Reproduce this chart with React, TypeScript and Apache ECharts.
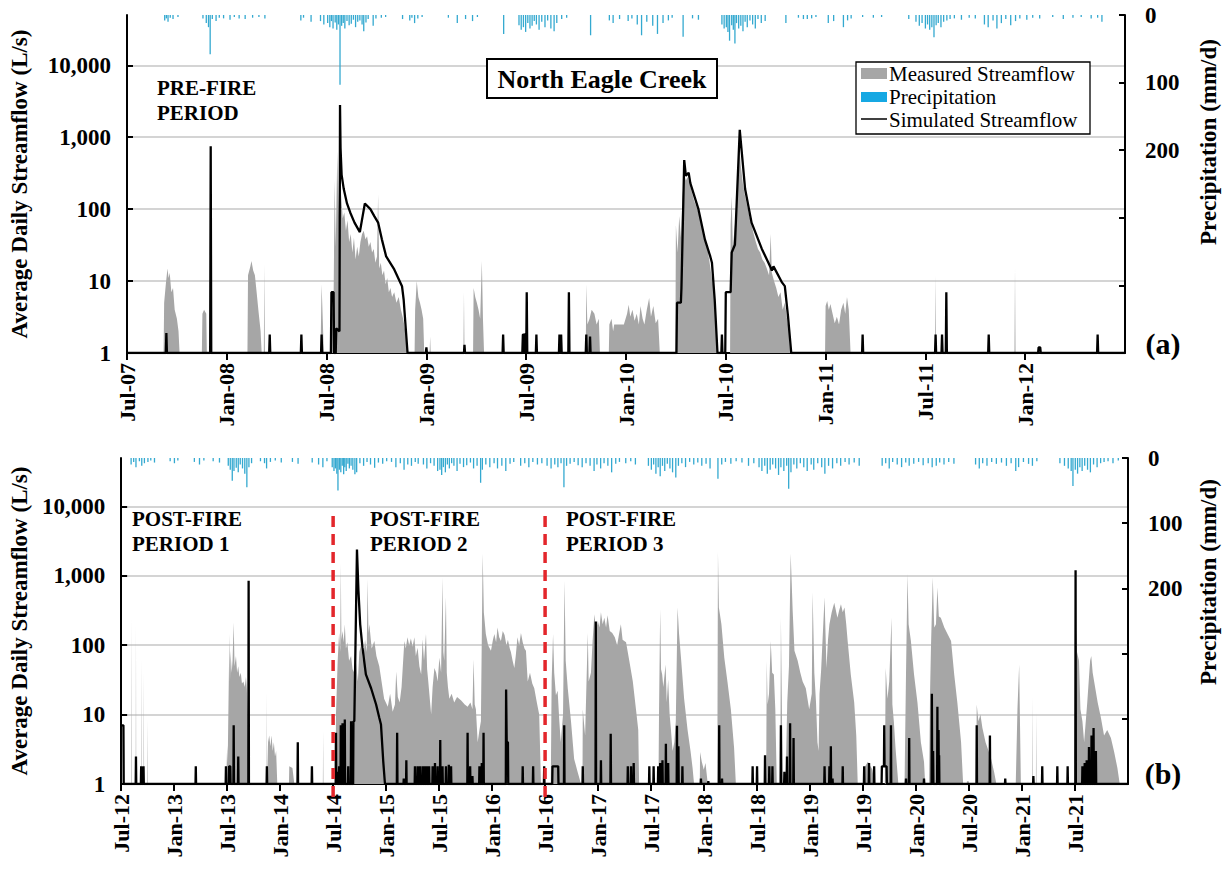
import React, { useEffect, useRef } from 'react';
import * as echarts from 'echarts';

type Pt = [string, number];

// ---------- Pre-fire period (Jul 2007 – Jul 2012) ----------
const flowA: Pt[] = [
  ['2007-07-01', 1],
  ['2007-09-07', 1], ['2007-09-08', 5], ['2007-09-11', 9], ['2007-09-14', 15], ['2007-09-16', 11], ['2007-09-18', 13], ['2007-09-21', 7], ['2007-09-24', 8], ['2007-09-27', 4], ['2007-10-01', 3], ['2007-10-04', 2], ['2007-10-06', 1],
  ['2007-11-16', 1], ['2007-11-17', 3.5], ['2007-11-20', 4], ['2007-11-24', 3.5], ['2007-11-25', 1],
  ['2008-02-08', 1], ['2008-02-09', 12], ['2008-02-13', 16], ['2008-02-15', 19], ['2008-02-18', 14], ['2008-02-21', 12], ['2008-02-24', 7], ['2008-02-27', 4], ['2008-03-02', 2], ['2008-03-04', 1],
  ['2008-03-08', 1], ['2008-03-09', 17], ['2008-03-10', 1],
  ['2008-06-20', 1], ['2008-06-22', 9], ['2008-06-24', 3], ['2008-06-26', 1],
  ['2008-07-09', 1], ['2008-07-10', 3], ['2008-07-14', 5], ['2008-07-16', 250], ['2008-07-18', 30], ['2008-07-21', 640], ['2008-07-23', 80], ['2008-07-26', 2000], ['2008-07-28', 160], ['2008-07-31', 75],
  ['2008-08-03', 90], ['2008-08-06', 50], ['2008-08-09', 70], ['2008-08-12', 35], ['2008-08-15', 45], ['2008-08-18', 25], ['2008-08-21', 40], ['2008-08-24', 20], ['2008-08-27', 30], ['2008-08-30', 22],
  ['2008-09-02', 35], ['2008-09-05', 45], ['2008-09-08', 50], ['2008-09-11', 38], ['2008-09-14', 42], ['2008-09-17', 30], ['2008-09-20', 35], ['2008-09-23', 25], ['2008-09-26', 28], ['2008-09-29', 18],
  ['2008-10-02', 22], ['2008-10-04', 160], ['2008-10-06', 15], ['2008-10-09', 18], ['2008-10-12', 12], ['2008-10-15', 14], ['2008-10-18', 9], ['2008-10-21', 11], ['2008-10-24', 7], ['2008-10-27', 8], ['2008-10-30', 6],
  ['2008-11-03', 7], ['2008-11-07', 5], ['2008-11-11', 6], ['2008-11-15', 4], ['2008-11-19', 3], ['2008-11-23', 2], ['2008-11-27', 1],
  ['2008-12-10', 1], ['2008-12-11', 4], ['2008-12-14', 10], ['2008-12-17', 6], ['2008-12-20', 5], ['2008-12-23', 4], ['2008-12-26', 3], ['2008-12-28', 1],
  ['2009-01-07', 1], ['2009-01-08', 1.7], ['2009-01-09', 1],
  ['2009-03-08', 1], ['2009-03-09', 7], ['2009-03-10', 1],
  ['2009-03-26', 1], ['2009-03-27', 8], ['2009-03-30', 6], ['2009-04-02', 5], ['2009-04-05', 4], ['2009-04-08', 3], ['2009-04-11', 19], ['2009-04-13', 3], ['2009-04-15', 1],
  ['2009-10-19', 1], ['2009-10-20', 9], ['2009-10-22', 2.5], ['2009-10-26', 3], ['2009-10-30', 4], ['2009-11-04', 3.5], ['2009-11-08', 2.5], ['2009-11-12', 3], ['2009-11-14', 1],
  ['2009-11-30', 1], ['2009-12-01', 2.5], ['2009-12-05', 3], ['2009-12-08', 2], ['2009-12-10', 2.5], ['2009-12-20', 2.5], ['2009-12-28', 2.5], ['2010-01-03', 3.5], ['2010-01-06', 4.7], ['2010-01-09', 3.2], ['2010-01-13', 4],
  ['2010-01-17', 2.8], ['2010-01-21', 3.5], ['2010-01-25', 2.5], ['2010-01-28', 4.5], ['2010-02-01', 3], ['2010-02-04', 2.5], ['2010-02-08', 4], ['2010-02-12', 5.8], ['2010-02-15', 3.2], ['2010-02-19', 4.5], ['2010-02-23', 2.6], ['2010-02-27', 3], ['2010-03-02', 1],
  ['2010-03-31', 1], ['2010-04-01', 60], ['2010-04-04', 25], ['2010-04-07', 80], ['2010-04-10', 40], ['2010-04-13', 150], ['2010-04-16', 300], ['2010-04-19', 250], ['2010-04-22', 280], ['2010-04-26', 220], ['2010-04-30', 170],
  ['2010-05-04', 130], ['2010-05-08', 110], ['2010-05-12', 90], ['2010-05-16', 70], ['2010-05-20', 55], ['2010-05-24', 40], ['2010-05-28', 30], ['2010-06-01', 20], ['2010-06-05', 12], ['2010-06-09', 8], ['2010-06-13', 4], ['2010-06-16', 1],
  ['2010-07-09', 1], ['2010-07-10', 60], ['2010-07-12', 150], ['2010-07-14', 30], ['2010-07-17', 50], ['2010-07-20', 90], ['2010-07-23', 250], ['2010-07-26', 800], ['2010-07-29', 400], ['2010-08-02', 220], ['2010-08-06', 150],
  ['2010-08-10', 110], ['2010-08-14', 80], ['2010-08-18', 60], ['2010-08-22', 45], ['2010-08-26', 35], ['2010-08-30', 28], ['2010-09-03', 25], ['2010-09-07', 20], ['2010-09-11', 18], ['2010-09-15', 15], ['2010-09-19', 12],
  ['2010-09-22', 45], ['2010-09-24', 13], ['2010-09-28', 10], ['2010-10-02', 8], ['2010-10-06', 6], ['2010-10-10', 7], ['2010-10-14', 4], ['2010-10-18', 5], ['2010-10-22', 3], ['2010-10-26', 2], ['2010-10-28', 1],
  ['2010-12-31', 1], ['2011-01-01', 4.5], ['2011-01-04', 5.3], ['2011-01-07', 4], ['2011-01-10', 4.8], ['2011-01-14', 3.5], ['2011-01-18', 2.6], ['2011-01-22', 3.2], ['2011-01-26', 2.5], ['2011-01-30', 4], ['2011-02-03', 5], ['2011-02-06', 3.5], ['2011-02-09', 6], ['2011-02-12', 4], ['2011-02-15', 1],
  ['2011-07-19', 1], ['2011-07-20', 12], ['2011-07-21', 1],
  ['2011-12-12', 1], ['2011-12-13', 15], ['2011-12-14', 1],
  ['2012-07-01', 1],
];

const simA: Pt[] = [
  ['2007-07-01', 1],
  ['2007-09-11', 1], ['2007-09-12', 1.9], ['2007-09-13', 1],
  ['2007-12-01', 1], ['2007-12-02', 750], ['2007-12-03', 1],
  ['2008-03-18', 1], ['2008-03-19', 1.8], ['2008-03-20', 1],
  ['2008-05-15', 1], ['2008-05-16', 1.8], ['2008-05-17', 1],
  ['2008-06-21', 1], ['2008-06-22', 1.8], ['2008-06-23', 1],
  ['2008-07-09', 1], ['2008-07-10', 7], ['2008-07-14', 7], ['2008-07-15', 1],
  ['2008-07-18', 1], ['2008-07-19', 2.2], ['2008-07-25', 2], ['2008-07-26', 2800], ['2008-07-27', 700], ['2008-07-29', 300], ['2008-08-02', 190], ['2008-08-08', 120], ['2008-08-14', 90], ['2008-08-22', 65], ['2008-09-01', 48],
  ['2008-09-06', 80], ['2008-09-10', 120], ['2008-09-20', 100], ['2008-09-27', 80], ['2008-10-04', 65], ['2008-10-11', 38], ['2008-10-19', 22], ['2008-11-03', 14.5], ['2008-11-17', 8.5], ['2008-11-20', 5.5], ['2008-11-27', 1],
  ['2008-12-31', 1], ['2009-01-01', 1.2], ['2009-01-02', 1],
  ['2009-03-09', 1], ['2009-03-10', 1.3], ['2009-03-11', 1],
  ['2009-05-19', 1], ['2009-05-20', 1.8], ['2009-05-21', 1],
  ['2009-06-24', 1], ['2009-06-25', 1.8], ['2009-06-27', 1.8], ['2009-06-28', 1], ['2009-06-30', 1.9], ['2009-07-01', 1], ['2009-07-02', 7], ['2009-07-03', 1],
  ['2009-07-19', 1], ['2009-07-20', 1.8], ['2009-07-21', 1],
  ['2009-08-31', 1], ['2009-09-01', 1.8], ['2009-09-02', 1], ['2009-09-04', 1.8], ['2009-09-05', 1], ['2009-09-17', 1], ['2009-09-18', 7], ['2009-09-19', 1],
  ['2009-10-19', 1], ['2009-10-20', 1.8], ['2009-10-21', 1], ['2009-10-26', 1], ['2009-10-27', 1.7], ['2009-10-28', 1],
  ['2010-04-02', 1], ['2010-04-03', 5], ['2010-04-10', 5], ['2010-04-11', 8], ['2010-04-16', 480], ['2010-04-19', 290], ['2010-04-22', 310], ['2010-04-24', 320], ['2010-04-27', 230], ['2010-05-12', 100], ['2010-05-24', 38], ['2010-06-03', 22], ['2010-06-06', 18], ['2010-06-11', 5.5], ['2010-06-16', 1],
  ['2010-06-23', 1], ['2010-06-24', 1.8], ['2010-06-25', 1],
  ['2010-06-30', 1], ['2010-07-01', 7], ['2010-07-10', 7], ['2010-07-12', 25], ['2010-07-18', 32], ['2010-07-27', 1270], ['2010-08-06', 190], ['2010-08-18', 65], ['2010-09-06', 28], ['2010-09-21', 16], ['2010-09-24', 14], ['2010-09-27', 16], ['2010-10-13', 9.5], ['2010-10-18', 8.5], ['2010-10-24', 3.2], ['2010-10-30', 1],
  ['2011-03-07', 1], ['2011-03-08', 1.8], ['2011-03-09', 1],
  ['2011-07-19', 1], ['2011-07-20', 1.8], ['2011-07-21', 1], ['2011-07-31', 1], ['2011-08-01', 1.8], ['2011-08-02', 1], ['2011-08-08', 1], ['2011-08-09', 7], ['2011-08-10', 1],
  ['2011-10-25', 1], ['2011-10-26', 1.8], ['2011-10-27', 1],
  ['2012-01-25', 1], ['2012-01-26', 1.2], ['2012-01-29', 1.2], ['2012-01-30', 1],
  ['2012-05-11', 1], ['2012-05-12', 1.8], ['2012-05-13', 1],
  ['2012-07-01', 1],
];

const rainA: Pt[] = [
  ['2007-09-09', 8], ['2007-09-12', 5], ['2007-09-15', 10], ['2007-09-19', 4], ['2007-09-24', 6], ['2007-10-03', 3],
  ['2007-11-18', 5], ['2007-11-24', 12], ['2007-11-28', 18], ['2007-12-01', 58], ['2007-12-05', 6], ['2007-12-12', 9], ['2007-12-18', 4], ['2007-12-26', 5], ['2008-01-07', 7], ['2008-01-15', 3], ['2008-01-24', 5], ['2008-02-04', 6], ['2008-02-17', 4], ['2008-02-28', 3], ['2008-03-10', 5],
  ['2008-05-15', 8], ['2008-05-20', 4], ['2008-06-03', 10], ['2008-06-20', 9], ['2008-06-26', 14],
  ['2008-07-03', 12], ['2008-07-07', 18], ['2008-07-10', 9], ['2008-07-13', 20], ['2008-07-17', 11], ['2008-07-20', 22], ['2008-07-23', 14], ['2008-07-26', 103], ['2008-07-29', 16], ['2008-08-01', 12], ['2008-08-04', 20], ['2008-08-08', 9], ['2008-08-12', 15], ['2008-08-16', 13], ['2008-08-20', 7], ['2008-08-24', 18], ['2008-08-28', 10],
  ['2008-09-01', 8], ['2008-09-05', 14], ['2008-09-08', 24], ['2008-09-12', 11], ['2008-09-16', 6], ['2008-09-25', 16], ['2008-09-30', 5], ['2008-10-10', 4], ['2008-10-18', 3], ['2008-11-18', 6],
  ['2008-12-01', 8], ['2008-12-05', 4], ['2008-12-10', 12], ['2008-12-16', 5], ['2008-12-24', 3],
  ['2009-02-10', 4], ['2009-02-25', 12], ['2009-03-12', 6], ['2009-03-25', 9], ['2009-04-03', 3],
  ['2009-05-21', 28],
  ['2009-06-18', 15], ['2009-06-22', 22], ['2009-06-26', 18], ['2009-06-30', 25], ['2009-07-04', 12], ['2009-07-08', 20], ['2009-07-12', 16], ['2009-07-16', 9], ['2009-07-20', 14], ['2009-07-25', 22], ['2009-07-30', 10], ['2009-08-05', 18], ['2009-08-10', 8], ['2009-08-16', 20], ['2009-08-22', 24], ['2009-08-27', 12], ['2009-09-05', 6], ['2009-09-14', 4],
  ['2009-10-28', 30],
  ['2009-12-01', 8], ['2009-12-08', 12], ['2009-12-20', 6], ['2010-01-05', 9], ['2010-01-12', 5], ['2010-01-22', 14], ['2010-01-30', 30], ['2010-02-08', 10], ['2010-02-18', 16], ['2010-02-26', 28], ['2010-03-08', 12], ['2010-03-18', 8], ['2010-03-25', 4],
  ['2010-04-14', 32], ['2010-05-01', 5], ['2010-05-12', 7],
  ['2010-06-24', 14], ['2010-06-28', 20], ['2010-07-02', 18], ['2010-07-05', 25], ['2010-07-08', 38], ['2010-07-12', 15], ['2010-07-15', 22], ['2010-07-18', 42], ['2010-07-21', 12], ['2010-07-25', 20], ['2010-07-29', 16], ['2010-08-02', 24], ['2010-08-06', 10], ['2010-08-10', 18], ['2010-08-15', 8], ['2010-08-20', 14], ['2010-08-25', 20], ['2010-08-30', 6], ['2010-09-05', 12], ['2010-09-12', 9],
  ['2010-10-20', 12], ['2010-11-12', 4], ['2010-11-21', 6], ['2010-11-28', 6], ['2010-12-06', 5], ['2010-12-14', 3],
  ['2011-01-06', 12], ['2011-01-16', 9], ['2011-02-03', 18], ['2011-02-10', 8], ['2011-02-16', 5], ['2011-03-08', 3], ['2011-03-28', 4], ['2011-04-12', 3],
  ['2011-06-01', 6], ['2011-06-14', 10], ['2011-06-20', 16], ['2011-06-25', 12], ['2011-07-01', 20], ['2011-07-05', 14], ['2011-07-09', 22], ['2011-07-13', 18], ['2011-07-17', 33], ['2011-07-21', 15], ['2011-07-25', 12], ['2011-07-30', 18], ['2011-08-04', 10], ['2011-08-10', 8], ['2011-08-16', 6], ['2011-08-24', 5], ['2011-09-06', 7], ['2011-09-20', 4], ['2011-10-01', 5],
  ['2011-10-18', 14], ['2011-10-25', 18], ['2011-11-03', 8], ['2011-11-10', 20], ['2011-11-18', 12], ['2011-11-26', 6], ['2011-12-05', 15], ['2011-12-14', 9], ['2011-12-22', 5], ['2012-01-04', 7], ['2012-01-15', 4], ['2012-01-28', 5], ['2012-02-20', 3], ['2012-03-10', 6], ['2012-03-28', 4], ['2012-04-12', 3], ['2012-04-30', 5], ['2012-05-12', 4], ['2012-05-20', 10],
];

// ---------- Post-fire periods (Jul 2012 – Jan 2022) ----------
const flowB: Pt[] = [
  ['2012-07-01', 1],
  ['2012-08-06', 1], ['2012-08-07', 250], ['2012-08-08', 1], ['2012-08-21', 1], ['2012-08-22', 196], ['2012-08-23', 1],
  ['2012-09-10', 1], ['2012-09-11', 63], ['2012-09-12', 1], ['2012-09-17', 1], ['2012-09-18', 40], ['2012-09-19', 1], ['2012-09-30', 1], ['2012-10-01', 8.5], ['2012-10-02', 1],
  ['2013-06-28', 1], ['2013-07-01', 3.6], ['2013-07-03', 2], ['2013-07-09', 145], ['2013-07-11', 30], ['2013-07-13', 83], ['2013-07-17', 40], ['2013-07-20', 60], ['2013-07-24', 213], ['2013-07-27', 50], ['2013-08-01', 70], ['2013-08-05', 40], ['2013-08-09', 50], ['2013-08-13', 35], ['2013-08-18', 40], ['2013-08-22', 28], ['2013-08-27', 30], ['2013-09-01', 25], ['2013-09-05', 35], ['2013-09-08', 23], ['2013-09-11', 10], ['2013-09-13', 1],
  ['2013-11-15', 1], ['2013-11-16', 21], ['2013-11-17', 1], ['2013-11-19', 1], ['2013-11-20', 4], ['2013-11-24', 5], ['2013-11-28', 3.5], ['2013-12-02', 5], ['2013-12-06', 3], ['2013-12-10', 4], ['2013-12-14', 2.5], ['2013-12-18', 3], ['2013-12-22', 1],
  ['2014-02-01', 1], ['2014-02-02', 1.8], ['2014-02-12', 1.7], ['2014-02-18', 1],
  ['2014-05-27', 1], ['2014-05-28', 5.7], ['2014-05-29', 1],
  ['2014-07-10', 1], ['2014-07-11', 10], ['2014-07-17', 60], ['2014-07-22', 150], ['2014-07-26', 80], ['2014-07-28', 1500], ['2014-07-30', 120], ['2014-08-03', 160], ['2014-08-07', 110], ['2014-08-11', 200], ['2014-08-15', 90], ['2014-08-20', 110], ['2014-08-26', 60],
  ['2014-09-02', 70], ['2014-09-07', 45], ['2014-09-13', 40], ['2014-09-19', 55], ['2014-09-25', 30], ['2014-09-30', 80], ['2014-10-06', 100], ['2014-10-13', 60], ['2014-10-20', 120], ['2014-10-26', 80], ['2014-10-29', 900], ['2014-11-01', 150], ['2014-11-04', 200], ['2014-11-12', 90], ['2014-11-21', 115], ['2014-11-28', 70],
  ['2014-12-08', 50], ['2014-12-16', 30], ['2014-12-25', 17], ['2015-01-07', 13], ['2015-01-15', 20], ['2015-01-24', 11], ['2015-02-01', 14], ['2015-02-05', 42], ['2015-02-10', 18], ['2015-02-16', 15], ['2015-02-22', 25],
  ['2015-03-03', 115], ['2015-03-08', 90], ['2015-03-14', 130], ['2015-03-20', 100], ['2015-03-26', 125], ['2015-04-01', 95], ['2015-04-07', 130], ['2015-04-12', 70], ['2015-04-18', 92], ['2015-04-24', 50], ['2015-04-30', 38], ['2015-05-05', 122], ['2015-05-10', 60], ['2015-05-17', 145], ['2015-05-21', 45], ['2015-05-25', 30],
  ['2015-06-04', 10], ['2015-06-09', 25], ['2015-06-15', 47], ['2015-06-21', 40], ['2015-06-26', 30], ['2015-07-02', 66], ['2015-07-08', 40], ['2015-07-13', 950], ['2015-07-16', 80], ['2015-07-19', 60], ['2015-07-25', 490], ['2015-07-28', 40], ['2015-08-01', 25], ['2015-08-06', 17], ['2015-08-14', 20], ['2015-08-23', 15],
  ['2015-09-02', 18], ['2015-09-16', 16], ['2015-09-28', 14], ['2015-10-08', 13], ['2015-10-18', 15], ['2015-10-25', 12], ['2015-10-29', 63], ['2015-11-02', 14], ['2015-11-06', 12], ['2015-11-12', 4], ['2015-11-18', 6], ['2015-11-23', 8], ['2015-11-29', 2100],
  ['2015-12-03', 300], ['2015-12-10', 145], ['2015-12-18', 100], ['2015-12-28', 83], ['2016-01-04', 120], ['2016-01-09', 145], ['2016-01-15', 110], ['2016-01-20', 180], ['2016-01-26', 130], ['2016-02-01', 115], ['2016-02-07', 160], ['2016-02-13', 140], ['2016-02-19', 100], ['2016-02-24', 120],
  ['2016-03-01', 90], ['2016-03-05', 80], ['2016-03-11', 60], ['2016-03-17', 47], ['2016-03-22', 70], ['2016-03-28', 130], ['2016-04-03', 100], ['2016-04-09', 150], ['2016-04-15', 110], ['2016-04-21', 90], ['2016-04-26', 83], ['2016-05-02', 30], ['2016-05-10', 40], ['2016-05-18', 28], ['2016-05-25', 24], ['2016-06-03', 15], ['2016-06-11', 10], ['2016-06-17', 1],
  ['2016-07-21', 1], ['2016-07-24', 30], ['2016-07-29', 145], ['2016-08-02', 40], ['2016-08-08', 19], ['2016-08-14', 22], ['2016-08-20', 8], ['2016-08-25', 4], ['2016-09-02', 10], ['2016-09-07', 850], ['2016-09-11', 60], ['2016-09-18', 24], ['2016-09-29', 8], ['2016-10-10', 2.3], ['2016-10-22', 1.5], ['2016-11-03', 1],
  ['2016-11-08', 1], ['2016-11-09', 12], ['2016-11-17', 5], ['2016-11-26', 150], ['2016-11-29', 30], ['2016-12-07', 40], ['2016-12-13', 120], ['2016-12-19', 280], ['2016-12-25', 160], ['2016-12-31', 225], ['2017-01-06', 180], ['2017-01-11', 300], ['2017-01-17', 200], ['2017-01-23', 250], ['2017-01-29', 180],
  ['2017-02-03', 270], ['2017-02-10', 160], ['2017-02-18', 150], ['2017-02-26', 130], ['2017-03-06', 100], ['2017-03-12', 140], ['2017-03-19', 200], ['2017-03-25', 120], ['2017-04-06', 110], ['2017-04-17', 60], ['2017-04-29', 30], ['2017-05-10', 12], ['2017-05-18', 6], ['2017-05-21', 1],
  ['2017-07-27', 1], ['2017-07-29', 12], ['2017-08-02', 330], ['2017-08-05', 45], ['2017-08-09', 38], ['2017-08-13', 25], ['2017-08-21', 53], ['2017-08-25', 15], ['2017-08-30', 32], ['2017-09-04', 10], ['2017-09-08', 6.4], ['2017-09-14', 3], ['2017-09-20', 4], ['2017-09-25', 8],
  ['2017-10-01', 350], ['2017-10-06', 150], ['2017-10-13', 66], ['2017-10-24', 17], ['2017-11-05', 6], ['2017-11-15', 3], ['2017-11-22', 1.7], ['2017-11-27', 1],
  ['2017-12-17', 1], ['2017-12-18', 2.9], ['2017-12-24', 2.1], ['2017-12-31', 1.6], ['2018-01-06', 2], ['2018-01-14', 1],
  ['2018-02-15', 1], ['2018-02-17', 2200], ['2018-02-20', 350], ['2018-02-28', 200], ['2018-03-10', 66], ['2018-03-21', 30], ['2018-04-02', 12], ['2018-04-13', 3.3], ['2018-04-19', 1],
  ['2018-08-02', 1], ['2018-08-04', 60], ['2018-08-07', 14], ['2018-08-12', 20], ['2018-08-18', 115], ['2018-08-23', 40], ['2018-08-29', 38], ['2018-09-03', 12], ['2018-09-08', 1],
  ['2018-09-20', 1], ['2018-09-22', 250], ['2018-09-25', 18], ['2018-09-28', 1],
  ['2018-10-08', 1], ['2018-10-14', 15], ['2018-10-20', 50], ['2018-10-26', 2100], ['2018-11-02', 315], ['2018-11-08', 83], ['2018-11-19', 60], ['2018-11-28', 40], ['2018-12-06', 30], ['2018-12-17', 24], ['2018-12-29', 12], ['2019-01-07', 20], ['2019-01-10', 580], ['2019-01-16', 40], ['2019-01-22', 15], ['2019-01-27', 4], ['2019-01-31', 3],
  ['2019-02-03', 20], ['2019-02-08', 43], ['2019-02-19', 490], ['2019-02-25', 47], ['2019-03-02', 120], ['2019-03-07', 200], ['2019-03-15', 300], ['2019-03-24', 410], ['2019-04-04', 250], ['2019-04-10', 320], ['2019-04-16', 390], ['2019-04-22', 300], ['2019-04-28', 350], ['2019-05-04', 200], ['2019-05-09', 115], ['2019-05-20', 38], ['2019-06-01', 15], ['2019-06-08', 5], ['2019-06-13', 1],
  ['2019-07-03', 1], ['2019-07-05', 1.7], ['2019-07-18', 2.1], ['2019-08-03', 1.6], ['2019-08-10', 1],
  ['2019-09-15', 1], ['2019-09-18', 47], ['2019-09-24', 17], ['2019-09-30', 30], ['2019-10-08', 250], ['2019-10-11', 14], ['2019-10-16', 8], ['2019-10-22', 3.3], ['2019-11-01', 1],
  ['2019-11-22', 1], ['2019-11-27', 40], ['2019-12-02', 1070], ['2019-12-06', 200], ['2019-12-14', 115], ['2019-12-25', 38], ['2020-01-06', 15], ['2020-01-18', 4], ['2020-01-29', 2.1], ['2020-02-02', 1],
  ['2020-02-15', 1], ['2020-02-18', 20], ['2020-02-21', 92], ['2020-02-27', 950], ['2020-03-03', 180], ['2020-03-09', 200], ['2020-03-14', 680], ['2020-03-19', 260], ['2020-03-26', 250], ['2020-04-07', 180], ['2020-04-18', 145], ['2020-04-30', 115], ['2020-05-11', 38], ['2020-05-22', 15], ['2020-06-04', 4], ['2020-06-11', 1],
  ['2020-06-23', 1], ['2020-06-24', 1.1], ['2020-06-30', 1.1], ['2020-07-01', 1],
  ['2020-07-26', 1], ['2020-07-28', 14], ['2020-08-03', 8], ['2020-08-10', 10], ['2020-08-17', 6.4], ['2020-08-28', 4], ['2020-09-15', 2.4], ['2020-09-26', 1.5], ['2020-10-04', 1],
  ['2020-12-10', 1], ['2020-12-16', 12], ['2020-12-22', 53], ['2020-12-25', 7], ['2020-12-28', 1],
  ['2021-02-06', 1], ['2021-02-07', 18], ['2021-02-08', 1], ['2021-02-17', 1], ['2021-02-18', 11], ['2021-02-19', 1],
  ['2021-06-30', 1], ['2021-07-03', 225], ['2021-07-08', 80], ['2021-07-15', 60], ['2021-07-20', 12], ['2021-07-27', 8], ['2021-08-02', 4], ['2021-08-13', 15], ['2021-08-23', 60], ['2021-08-27', 70], ['2021-09-01', 40], ['2021-09-06', 30], ['2021-09-18', 15], ['2021-09-29', 9], ['2021-10-10', 5], ['2021-10-21', 6], ['2021-11-03', 4.6], ['2021-11-14', 2.9], ['2021-11-25', 1.7], ['2021-12-03', 1],
  ['2022-01-01', 1],
];

const simB: Pt[] = [
  ['2012-07-01', 7], ['2012-07-09', 7], ['2012-07-10', 1],
  ['2012-08-21', 1], ['2012-08-22', 2.5], ['2012-08-23', 1],
  ['2012-09-08', 1], ['2012-09-09', 1.8], ['2012-09-10', 1], ['2012-09-16', 1], ['2012-09-17', 1.8], ['2012-09-18', 1],
  ['2013-03-14', 1], ['2013-03-15', 1.8], ['2013-03-16', 1],
  ['2013-06-26', 1], ['2013-06-27', 1.8], ['2013-06-28', 1], ['2013-07-07', 1], ['2013-07-08', 1.8], ['2013-07-12', 1.8], ['2013-07-13', 1], ['2013-07-23', 1], ['2013-07-24', 7], ['2013-07-25', 1], ['2013-08-08', 1], ['2013-08-09', 2.5], ['2013-08-10', 1], ['2013-09-13', 1], ['2013-09-14', 850], ['2013-09-15', 1],
  ['2013-11-15', 1], ['2013-11-16', 1.8], ['2013-11-17', 1],
  ['2014-02-28', 1], ['2014-03-01', 4], ['2014-03-02', 1],
  ['2014-04-18', 1], ['2014-04-19', 1.8], ['2014-04-20', 1],
  ['2014-07-10', 1], ['2014-07-11', 5.5], ['2014-07-12', 1], ['2014-07-14', 1.5], ['2014-07-16', 1], ['2014-07-21', 1], ['2014-07-22', 1.8], ['2014-07-23', 1], ['2014-07-27', 1], ['2014-07-28', 7], ['2014-07-29', 1], ['2014-08-02', 1], ['2014-08-03', 7.5], ['2014-08-04', 1],
  ['2014-08-10', 1], ['2014-08-11', 8.5], ['2014-08-12', 1], ['2014-08-22', 1], ['2014-08-23', 1.8], ['2014-08-24', 1], ['2014-09-01', 1], ['2014-09-02', 8], ['2014-09-03', 1], ['2014-09-09', 1], ['2014-09-10', 8], ['2014-09-13', 8],
  ['2014-09-22', 2400], ['2014-09-27', 610], ['2014-10-03', 200], ['2014-10-11', 93], ['2014-10-23', 38], ['2014-11-10', 24], ['2014-11-27', 14], ['2014-12-08', 9], ['2014-12-14', 7.2], ['2014-12-22', 2.1], ['2014-12-28', 1],
  ['2015-02-07', 1], ['2015-02-08', 5.5], ['2015-02-09', 1],
  ['2015-02-28', 1], ['2015-03-01', 1.2], ['2015-03-02', 1], ['2015-03-09', 1], ['2015-03-10', 2.2], ['2015-03-11', 1],
  ['2015-04-08', 1], ['2015-04-09', 1.8], ['2015-04-10', 1], ['2015-04-17', 1], ['2015-04-18', 1.8], ['2015-04-19', 1], ['2015-04-25', 1], ['2015-04-26', 1.8], ['2015-04-27', 1], ['2015-05-04', 1], ['2015-05-05', 1.8], ['2015-05-06', 1],
  ['2015-05-12', 1], ['2015-05-13', 1.8], ['2015-05-14', 1], ['2015-05-19', 1], ['2015-05-20', 1.8], ['2015-05-21', 1], ['2015-05-27', 1], ['2015-05-28', 1.8], ['2015-05-29', 1],
  ['2015-06-08', 1], ['2015-06-09', 1.8], ['2015-06-10', 1], ['2015-06-16', 1], ['2015-06-17', 2], ['2015-06-18', 1], ['2015-06-25', 1], ['2015-06-26', 1.8], ['2015-06-27', 1],
  ['2015-07-04', 1], ['2015-07-05', 4.3], ['2015-07-06', 1], ['2015-07-12', 1], ['2015-07-13', 1.8], ['2015-07-14', 1],
  ['2015-07-24', 1], ['2015-07-25', 1.8], ['2015-07-26', 1], ['2015-08-03', 1], ['2015-08-04', 1.9], ['2015-08-05', 1], ['2015-08-11', 1], ['2015-08-12', 1.8], ['2015-08-13', 1],
  ['2015-10-07', 1], ['2015-10-08', 5.5], ['2015-10-09', 1], ['2015-10-16', 1], ['2015-10-17', 1.8], ['2015-10-18', 1], ['2015-10-24', 1], ['2015-10-25', 1.3], ['2015-10-26', 1],
  ['2015-11-17', 1], ['2015-11-18', 1.8], ['2015-11-19', 1], ['2015-11-25', 1], ['2015-11-26', 2], ['2015-11-27', 1], ['2015-12-01', 1], ['2015-12-02', 5.5], ['2015-12-03', 1],
  ['2016-02-17', 1], ['2016-02-18', 23], ['2016-02-20', 4], ['2016-02-24', 4], ['2016-02-25', 1],
  ['2016-04-14', 1], ['2016-04-15', 1.8], ['2016-04-16', 1], ['2016-05-20', 1], ['2016-05-21', 1.8], ['2016-05-22', 1], ['2016-06-27', 1], ['2016-06-28', 1.8], ['2016-06-29', 1],
  ['2016-07-26', 1], ['2016-07-27', 1.8], ['2016-08-16', 1.8], ['2016-08-17', 1],
  ['2016-09-05', 1], ['2016-09-06', 7], ['2016-09-07', 1],
  ['2016-11-08', 1], ['2016-11-09', 1.8], ['2016-11-10', 1],
  ['2016-12-23', 1], ['2016-12-24', 220], ['2016-12-25', 1],
  ['2017-01-10', 1], ['2017-01-11', 2.2], ['2017-01-12', 1],
  ['2017-02-12', 1], ['2017-02-13', 5.3], ['2017-02-14', 1],
  ['2017-04-11', 1], ['2017-04-12', 1.8], ['2017-04-13', 1], ['2017-04-22', 1], ['2017-04-23', 1.8], ['2017-04-24', 1], ['2017-05-01', 1], ['2017-05-02', 2], ['2017-05-03', 1],
  ['2017-06-24', 1], ['2017-06-25', 1.8], ['2017-06-26', 1], ['2017-07-09', 1], ['2017-07-10', 1.8], ['2017-07-11', 1],
  ['2017-07-25', 1], ['2017-07-26', 1.8], ['2017-07-27', 1], ['2017-08-01', 1], ['2017-08-02', 2], ['2017-08-03', 1], ['2017-08-09', 1], ['2017-08-10', 2.2], ['2017-08-11', 1], ['2017-08-21', 1], ['2017-08-22', 3.8], ['2017-08-23', 1], ['2017-08-29', 1], ['2017-08-30', 2], ['2017-08-31', 1],
  ['2017-09-28', 1], ['2017-09-29', 6.9], ['2017-09-30', 1], ['2017-10-03', 1], ['2017-10-04', 3.5], ['2017-10-05', 1], ['2017-10-17', 1], ['2017-10-18', 1.8], ['2017-10-19', 1],
  ['2017-12-20', 1], ['2017-12-21', 1.2], ['2017-12-22', 1],
  ['2018-01-15', 1], ['2018-01-16', 1.1], ['2018-01-17', 1],
  ['2018-02-20', 1], ['2018-02-21', 7], ['2018-02-22', 1], ['2018-03-01', 1], ['2018-03-02', 1.2], ['2018-03-03', 1],
  ['2018-06-15', 1], ['2018-06-16', 1.8], ['2018-06-17', 1], ['2018-06-30', 1], ['2018-07-01', 1.8], ['2018-07-02', 1], ['2018-07-28', 1], ['2018-07-29', 2.6], ['2018-07-30', 1], ['2018-08-12', 1], ['2018-08-13', 1.8], ['2018-08-14', 1], ['2018-08-23', 1], ['2018-08-24', 1.8], ['2018-08-25', 1],
  ['2018-09-21', 1], ['2018-09-22', 7], ['2018-09-23', 1], ['2018-10-03', 1], ['2018-10-04', 1.5], ['2018-10-05', 1], ['2018-10-12', 1], ['2018-10-13', 2.5], ['2018-10-14', 1], ['2018-10-23', 1], ['2018-10-24', 7.5], ['2018-10-25', 1], ['2018-11-04', 1], ['2018-11-05', 4.6], ['2018-11-06', 1],
  ['2019-02-18', 1], ['2019-02-19', 1.8], ['2019-02-20', 1], ['2019-03-06', 1], ['2019-03-07', 1.8], ['2019-03-08', 1], ['2019-03-11', 1], ['2019-03-12', 3.5], ['2019-03-13', 1], ['2019-03-17', 1], ['2019-03-18', 1.2], ['2019-03-19', 1], ['2019-04-21', 1], ['2019-04-22', 1.8], ['2019-04-23', 1],
  ['2019-07-04', 1], ['2019-07-05', 1.8], ['2019-07-06', 1], ['2019-07-21', 1], ['2019-07-22', 2], ['2019-07-23', 1], ['2019-08-08', 1], ['2019-08-09', 1.8], ['2019-08-10', 1],
  ['2019-09-04', 1], ['2019-09-05', 1.8], ['2019-09-12', 1.8], ['2019-09-13', 7], ['2019-09-14', 1.8], ['2019-09-21', 1.8], ['2019-09-22', 1], ['2019-10-05', 1], ['2019-10-06', 7], ['2019-10-07', 1],
  ['2019-11-26', 1], ['2019-11-27', 1.2], ['2019-11-28', 1], ['2019-12-07', 1], ['2019-12-08', 4.6], ['2019-12-09', 1],
  ['2020-01-28', 1], ['2020-01-29', 1.2], ['2020-01-30', 1],
  ['2020-02-23', 1], ['2020-02-24', 20], ['2020-02-25', 1], ['2020-02-27', 1], ['2020-02-28', 3], ['2020-02-29', 1], ['2020-03-13', 1], ['2020-03-14', 13], ['2020-03-15', 1], ['2020-03-17', 1], ['2020-03-18', 6], ['2020-03-19', 1], ['2020-03-20', 2.6], ['2020-03-21', 1],
  ['2020-07-27', 1], ['2020-07-28', 7], ['2020-07-29', 1], ['2020-09-11', 1], ['2020-09-12', 5], ['2020-09-13', 1],
  ['2020-11-03', 1], ['2020-11-04', 1.2], ['2020-11-05', 1],
  ['2021-02-08', 1], ['2021-02-09', 1.3], ['2021-02-10', 1], ['2021-03-09', 1], ['2021-03-10', 1.8], ['2021-03-11', 1], ['2021-04-30', 1], ['2021-05-01', 1.8], ['2021-05-02', 1], ['2021-06-05', 1], ['2021-06-06', 1.8], ['2021-06-07', 1],
  ['2021-07-02', 1], ['2021-07-03', 1200], ['2021-07-04', 1],
  ['2021-07-26', 1], ['2021-07-27', 1.8], ['2021-07-28', 1], ['2021-08-03', 1], ['2021-08-04', 2], ['2021-08-05', 1], ['2021-08-10', 1], ['2021-08-11', 2.2], ['2021-08-12', 1], ['2021-08-18', 1], ['2021-08-19', 3.4], ['2021-08-20', 1],
  ['2021-08-27', 1], ['2021-08-28', 5], ['2021-08-29', 1], ['2021-09-03', 1], ['2021-09-04', 6.4], ['2021-09-05', 1], ['2021-09-11', 1], ['2021-09-12', 3], ['2021-09-13', 1],
  ['2022-01-01', 1],
];

const rainB: Pt[] = [
  ['2012-08-05', 10], ['2012-08-14', 6], ['2012-08-22', 14], ['2012-09-03', 5], ['2012-09-11', 12], ['2012-09-20', 8], ['2012-10-02', 6], ['2012-10-12', 4], ['2012-10-25', 7],
  ['2012-12-18', 5], ['2013-01-02', 8], ['2013-01-14', 4], ['2013-03-10', 6], ['2013-03-28', 10], ['2013-04-12', 4], ['2013-05-14', 5], ['2013-06-05', 7],
  ['2013-07-05', 12], ['2013-07-12', 18], ['2013-07-19', 35], ['2013-07-25', 20], ['2013-08-02', 15], ['2013-08-09', 22], ['2013-08-16', 10], ['2013-08-24', 16], ['2013-09-01', 24], ['2013-09-08', 45], ['2013-09-15', 14], ['2013-09-24', 8],
  ['2013-10-25', 5], ['2013-11-08', 8], ['2013-11-15', 16], ['2013-11-28', 6], ['2013-12-15', 4], ['2014-01-05', 7], ['2014-02-12', 6], ['2014-03-02', 9],
  ['2014-04-20', 7], ['2014-05-12', 10], ['2014-05-27', 14], ['2014-06-10', 5],
  ['2014-06-28', 14], ['2014-07-04', 20], ['2014-07-09', 16], ['2014-07-14', 24], ['2014-07-18', 50], ['2014-07-23', 18], ['2014-07-28', 22], ['2014-08-02', 12], ['2014-08-07', 25], ['2014-08-11', 14], ['2014-08-16', 20], ['2014-08-22', 9], ['2014-08-27', 16], ['2014-09-02', 12], ['2014-09-08', 18], ['2014-09-15', 25], ['2014-09-21', 22],
  ['2014-10-02', 8], ['2014-10-15', 12], ['2014-10-27', 6], ['2014-11-08', 10], ['2014-11-22', 15], ['2014-12-05', 7], ['2014-12-20', 9], ['2015-01-03', 5],
  ['2015-01-20', 6], ['2015-02-04', 14], ['2015-02-18', 8], ['2015-03-02', 18], ['2015-03-15', 10], ['2015-03-28', 12], ['2015-04-10', 6], ['2015-04-20', 9],
  ['2015-05-08', 10], ['2015-05-20', 16], ['2015-06-02', 8], ['2015-06-14', 12], ['2015-06-26', 20], ['2015-07-04', 18], ['2015-07-10', 26], ['2015-07-16', 14], ['2015-07-23', 22], ['2015-07-30', 10], ['2015-08-06', 16], ['2015-08-14', 8], ['2015-08-22', 12], ['2015-09-02', 20], ['2015-09-12', 9], ['2015-09-24', 14], ['2015-10-05', 11], ['2015-10-18', 7], ['2015-10-29', 16], ['2015-11-10', 12], ['2015-11-22', 38], ['2015-11-28', 18],
  ['2015-12-10', 10], ['2015-12-24', 14], ['2016-01-08', 8], ['2016-01-20', 16], ['2016-02-04', 12], ['2016-02-17', 20], ['2016-03-02', 9], ['2016-03-15', 6],
  ['2016-04-08', 12], ['2016-04-22', 8], ['2016-05-06', 14], ['2016-05-20', 6], ['2016-06-05', 10], ['2016-06-20', 8], ['2016-07-08', 12], ['2016-07-22', 16],
  ['2016-08-04', 10], ['2016-08-15', 14], ['2016-08-26', 8], ['2016-09-05', 45], ['2016-09-14', 12], ['2016-09-26', 9], ['2016-10-10', 6], ['2016-10-24', 11], ['2016-11-07', 14], ['2016-11-20', 8], ['2016-12-04', 12], ['2016-12-18', 20], ['2016-12-28', 10], ['2017-01-10', 16], ['2017-01-22', 8], ['2017-02-04', 12], ['2017-02-16', 22], ['2017-03-01', 9], ['2017-03-14', 6],
  ['2017-04-05', 8], ['2017-04-22', 5], ['2017-05-08', 10],
  ['2017-06-22', 12], ['2017-07-02', 18], ['2017-07-10', 10], ['2017-07-18', 24], ['2017-07-26', 14], ['2017-08-02', 28], ['2017-08-10', 12], ['2017-08-18', 20], ['2017-08-27', 9], ['2017-09-05', 16], ['2017-09-14', 22], ['2017-09-25', 30], ['2017-10-04', 12], ['2017-10-16', 8], ['2017-10-29', 14], ['2017-11-12', 6], ['2017-11-26', 10], ['2017-12-10', 7], ['2017-12-24', 12], ['2018-01-08', 9], ['2018-01-22', 16],
  ['2018-02-17', 32], ['2018-03-01', 10], ['2018-03-14', 6], ['2018-04-02', 9], ['2018-04-20', 5], ['2018-05-10', 7], ['2018-06-02', 12], ['2018-06-20', 8],
  ['2018-07-08', 14], ['2018-07-18', 20], ['2018-07-28', 12], ['2018-08-06', 24], ['2018-08-16', 18], ['2018-08-25', 10], ['2018-09-04', 16], ['2018-09-14', 26], ['2018-09-22', 14], ['2018-10-02', 20], ['2018-10-12', 12], ['2018-10-19', 47], ['2018-10-27', 22], ['2018-11-06', 10], ['2018-11-16', 16], ['2018-11-28', 8], ['2018-12-10', 14], ['2018-12-22', 20],
  ['2019-01-05', 10], ['2019-01-14', 18], ['2019-01-28', 8], ['2019-02-10', 14], ['2019-02-20', 24], ['2019-03-04', 12], ['2019-03-18', 16], ['2019-04-02', 8], ['2019-04-15', 12], ['2019-04-30', 6], ['2019-05-14', 10], ['2019-06-01', 7], ['2019-06-18', 12],
  ['2019-09-06', 12], ['2019-09-18', 8], ['2019-09-30', 16], ['2019-10-12', 6], ['2019-10-28', 10], ['2019-11-12', 14], ['2019-11-26', 7], ['2019-12-08', 12], ['2019-12-24', 9], ['2020-01-10', 6], ['2020-01-26', 11], ['2020-02-12', 8], ['2020-02-25', 14], ['2020-03-10', 12], ['2020-03-22', 7], ['2020-04-06', 10], ['2020-04-22', 6], ['2020-05-10', 9],
  ['2020-07-24', 10], ['2020-08-06', 16], ['2020-08-18', 8], ['2020-09-02', 12], ['2020-09-18', 6], ['2020-10-04', 9], ['2020-10-22', 7], ['2020-11-08', 12], ['2020-11-24', 8], ['2020-12-10', 20], ['2020-12-20', 14],
  ['2021-01-06', 6], ['2021-01-24', 9], ['2021-02-06', 12], ['2021-02-20', 5],
  ['2021-05-10', 8], ['2021-05-26', 12], ['2021-06-08', 16], ['2021-06-18', 20], ['2021-06-24', 43], ['2021-07-02', 18], ['2021-07-10', 24], ['2021-07-18', 14], ['2021-07-26', 20], ['2021-08-04', 12], ['2021-08-14', 18], ['2021-08-24', 22], ['2021-09-04', 10], ['2021-09-16', 14], ['2021-09-28', 8], ['2021-10-10', 6],
  ['2021-10-24', 5], ['2021-11-10', 8], ['2021-11-28', 4],
];

const rangeA: [string, string] = ['2007-07-01', '2012-07-01'];
const rangeB: [string, string] = ['2012-07-01', '2022-01-01'];
const periodBreaks: string[] = ['2014-07-01', '2016-07-01'];
const flowRange: [number, number] = [1, 50000];
const rainRange: [number, number] = [0, 500];
const rainLabelled = [0, 100, 200];

const FONT = '"Times New Roman", "Liberation Serif", serif';
const GRAY = '#a6a6a6';
const RAIN = '#34a9d0';

// month index counted from Jan 2000, fractional within the month
function monthIndex(d: string): number {
  const [y, m, dd] = d.split('-').map(Number);
  const dim = new Date(y, m, 0).getDate();
  return (y - 2000) * 12 + (m - 1) + (dd - 1) / dim;
}
const toXY = (pts: Pt[]) => pts.map(([d, v]) => [monthIndex(d), v]);

const dateLabel = (v: number) => {
  const r = Math.round(v);
  const mo = ((r % 12) + 12) % 12;
  const yr = Math.floor(r / 12);
  return (mo === 6 ? 'Jul-' : 'Jan-') + String(yr).padStart(2, '0');
};

const boldText = (size: number) => ({ fontSize: size, fontWeight: 'bold' as const, fontFamily: FONT, color: '#000' });

function xAxisFor(grid: number, range: [string, string]) {
  return {
    type: 'value',
    gridIndex: grid,
    min: monthIndex(range[0]),
    max: monthIndex(range[1]),
    interval: 6,
    axisLine: { show: true, onZero: false, lineStyle: { color: '#000', width: 2 } },
    axisTick: { show: true, inside: false, length: 7, lineStyle: { color: '#000', width: 2 } },
    axisLabel: { ...boldText(22), rotate: 90, margin: 10, showMaxLabel: false, formatter: dateLabel },
    splitLine: { show: false },
  };
}

function flowAxisFor(grid: number, gap: number) {
  return {
    type: 'log',
    logBase: 10,
    gridIndex: grid,
    position: 'left',
    min: flowRange[0],
    max: flowRange[1],
    axisLine: { show: true, lineStyle: { color: '#000', width: 2 } },
    axisTick: { show: true, inside: true, length: 6, lineStyle: { color: '#000', width: 2 } },
    axisLabel: {
      ...boldText(23),
      margin: 16,
      showMaxLabel: false,
      formatter: (v: number) => Math.round(v).toLocaleString('en-US'),
    },
    splitLine: { show: true, showMinLine: false, showMaxLine: false, lineStyle: { color: '#d4d4d4', width: 2 } },
    name: 'Average Daily Streamflow (L/s)',
    nameLocation: 'middle',
    nameGap: gap,
    nameTextStyle: boldText(23),
  };
}

function rainAxisFor(grid: number) {
  return {
    type: 'value',
    gridIndex: grid,
    position: 'right',
    min: rainRange[0],
    max: rainRange[1],
    interval: 100,
    inverse: true,
    axisLine: { show: true, lineStyle: { color: '#000', width: 2 } },
    axisTick: { show: true, inside: true, length: 6, lineStyle: { color: '#000', width: 2 } },
    axisLabel: {
      ...boldText(23),
      margin: 20,
      formatter: (v: number) => (rainLabelled.includes(Math.round(v)) ? String(Math.round(v)) : ''),
    },
    splitLine: { show: false },
  };
}

function seriesFor(x: number, yFlow: number, yRain: number, flow: Pt[], sim: Pt[], rain: Pt[]) {
  return [
    {
      name: 'Measured Streamflow',
      type: 'line',
      xAxisIndex: x,
      yAxisIndex: yFlow,
      data: toXY(flow),
      showSymbol: false,
      lineStyle: { width: 0, opacity: 0 },
      areaStyle: { color: GRAY, opacity: 1, origin: 'start' },
      z: 2,
      silent: true,
    },
    {
      name: 'Precipitation',
      type: 'bar',
      xAxisIndex: x,
      yAxisIndex: yRain,
      data: toXY(rain),
      barWidth: 1.3,
      itemStyle: { color: RAIN },
      z: 3,
      silent: true,
    },
    {
      name: 'Simulated Streamflow',
      type: 'line',
      xAxisIndex: x,
      yAxisIndex: yFlow,
      data: toXY(sim),
      showSymbol: false,
      lineStyle: { color: '#000', width: 2.3 },
      z: 4,
      silent: true,
    },
  ];
}

function staticGraphics() {
  const t = (x: number, y: number, text: string, size: number, extra: Record<string, unknown> = {}) => ({
    type: 'text',
    x,
    y,
    z: 20,
    style: { text, fontSize: size, fontWeight: 'bold', fontFamily: FONT, fill: '#000', ...extra },
  });
  return [
    // panel (a) heading box
    { type: 'rect', z: 19, shape: { x: 487, y: 59, width: 230, height: 39 }, style: { fill: '#fff', stroke: '#000', lineWidth: 2 } },
    t(602, 79, 'North Eagle Creek', 26, { align: 'center', verticalAlign: 'middle' }),
    // legend
    { type: 'rect', z: 19, shape: { x: 856, y: 62, width: 234, height: 72 }, style: { fill: '#fff', stroke: '#000', lineWidth: 1.3 } },
    { type: 'rect', z: 20, shape: { x: 861, y: 68, width: 26, height: 11 }, style: { fill: GRAY } },
    { type: 'rect', z: 20, shape: { x: 861, y: 92, width: 26, height: 10 }, style: { fill: '#16a8e3' } },
    { type: 'line', z: 20, shape: { x1: 861, y1: 119, x2: 887, y2: 119 }, style: { stroke: '#000', lineWidth: 1.5 } },
    t(889, 74, 'Measured Streamflow', 21, { fontWeight: 'normal', verticalAlign: 'middle' }),
    t(889, 97, 'Precipitation', 21, { fontWeight: 'normal', verticalAlign: 'middle' }),
    t(889, 120, 'Simulated Streamflow', 21, { fontWeight: 'normal', verticalAlign: 'middle' }),
    // period notes
    t(157, 75, 'PRE-FIRE\nPERIOD', 21, { lineHeight: 25 }),
    t(132, 506, 'POST-FIRE\nPERIOD 1', 21, { lineHeight: 25 }),
    t(370, 506, 'POST-FIRE\nPERIOD 2', 21, { lineHeight: 25 }),
    t(566, 506, 'POST-FIRE\nPERIOD 3', 21, { lineHeight: 25 }),
    // panel tags
    t(1163, 343, '(a)', 30, { align: 'center', verticalAlign: 'middle' }),
    t(1163, 773, '(b)', 30, { align: 'center', verticalAlign: 'middle' }),
    // secondary axis titles
    { ...t(1208, 142, 'Precipitation (mm/d)', 23, { align: 'center', verticalAlign: 'middle' }), rotation: Math.PI / 2 },
    { ...t(1208, 582, 'Precipitation (mm/d)', 23, { align: 'center', verticalAlign: 'middle' }), rotation: Math.PI / 2 },
  ];
}

function buildOption() {
  return {
    animation: false,
    backgroundColor: '#fff',
    textStyle: { fontFamily: FONT },
    grid: [
      { left: 127, top: 15, width: 998, height: 338 },
      { left: 121, top: 458, width: 1007, height: 326 },
    ],
    xAxis: [xAxisFor(0, rangeA), xAxisFor(1, rangeB)],
    yAxis: [flowAxisFor(0, 96), rainAxisFor(0), flowAxisFor(1, 90), rainAxisFor(1)],
    series: [...seriesFor(0, 0, 1, flowA, simA, rainA), ...seriesFor(1, 2, 3, flowB, simB, rainB)],
  };
}

export default function App() {
  const ref = useRef<HTMLDivElement>(null);
  useEffect(() => {
    if (!ref.current) return;
    const chart = echarts.init(ref.current, undefined, { renderer: 'svg' });
    chart.setOption(buildOption() as any);
    const dashes = periodBreaks.map((d, i) => {
      const px = chart.convertToPixel({ xAxisIndex: 1 } as any, monthIndex(d)) as number;
      return {
        type: 'line',
        id: 'break' + i,
        z: 30,
        shape: { x1: px, y1: 516, x2: px, y2: 800 },
        style: { stroke: '#e3262b', lineWidth: 3.5, lineDash: [11, 7] },
      };
    });
    chart.setOption({ graphic: [...staticGraphics(), ...dashes] } as any);
    return () => chart.dispose();
  }, []);
  return (
    <div
      ref={ref}
      style={{ position: 'fixed', left: 0, top: 0, width: 1228, height: 869, background: '#fff' }}
    />
  );
}
